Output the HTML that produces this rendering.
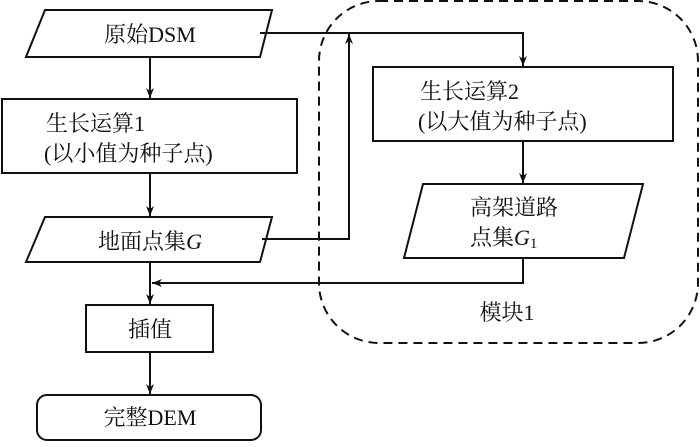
<!DOCTYPE html>
<html><head><meta charset="utf-8"><style>
body{margin:0;background:#fff}
svg text{font-family:"Liberation Serif","Noto Serif CJK SC",serif;font-size:22px;fill:#111}
</style></head><body>
<svg width="700" height="442" viewBox="0 0 700 442" xmlns="http://www.w3.org/2000/svg">
<defs><marker id="a" viewBox="0 0 10 10" refX="10" refY="5" markerWidth="10" markerHeight="10" markerUnits="userSpaceOnUse" orient="auto"><path d="M0,1 L10,5 L0,9 L3,5 z" fill="#111"/></marker></defs>
<g fill="none" stroke="#111" stroke-width="2">
<rect x="319" y="1" width="379" height="342" rx="60" stroke-dasharray="9,6"/>
<polygon points="45,10 272,10 260,57 26,57"/>
<rect x="2" y="99" width="295" height="74"/>
<polygon points="45,217 272,217 260,262 26,262"/>
<rect x="86" y="305" width="127" height="47"/>
<rect x="37" y="395" width="224" height="45" rx="10"/>
<rect x="373" y="67" width="300" height="74"/>
<polygon points="423,184 643,184 624,258 404,258"/>
<line x1="150" y1="57" x2="150" y2="98" marker-end="url(#a)"/>
<line x1="150" y1="173" x2="150" y2="216" marker-end="url(#a)"/>
<line x1="150" y1="262" x2="150" y2="304" marker-end="url(#a)"/>
<line x1="150" y1="352" x2="150" y2="394" marker-end="url(#a)"/>
<polyline points="260,33 523,33 523,66" marker-end="url(#a)"/>
<polyline points="262,239 349,239 349,34" marker-end="url(#a)"/>
<line x1="523" y1="141" x2="523" y2="183" marker-end="url(#a)"/>
<polyline points="523,258 523,283 152,283" marker-end="url(#a)"/>
</g>
<text x="150" y="42" text-anchor="middle">原始DSM</text>
<text x="46" y="131">生长运算1</text>
<text x="44" y="161">(以小值为种子点)</text>
<text x="150" y="249" text-anchor="middle">地面点集<tspan font-style="italic">G</tspan></text>
<text x="150" y="337" text-anchor="middle">插值</text>
<text x="150" y="425" text-anchor="middle">完整DEM</text>
<text x="420" y="99">生长运算2</text>
<text x="418" y="129">(以大值为种子点)</text>
<text x="470" y="215">高架道路</text>
<text x="470" y="245">点集<tspan font-style="italic">G</tspan><tspan font-size="15" dy="3">1</tspan></text>
<text x="507" y="320" text-anchor="middle">模块1</text>
</svg>
</body></html>
